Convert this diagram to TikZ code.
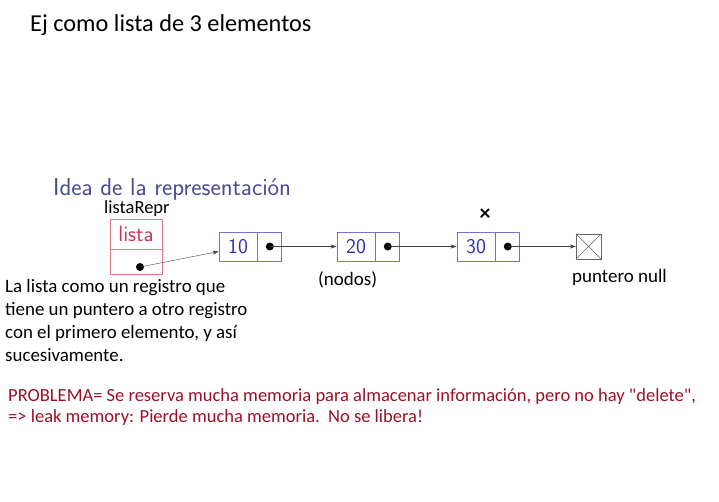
\documentclass[tikz,border=0pt]{standalone}
\usepackage{fontspec}
\setmainfont{Carlito}
\usepackage{xcolor}
\usetikzlibrary{positioning,arrows.meta}

\definecolor{cajaborde}{RGB}{120,110,210}
\definecolor{cajatexto}{RGB}{51,51,178}
\definecolor{tituloidea}{RGB}{75,75,145}
\definecolor{listaborde}{RGB}{225,120,135}
\definecolor{listatexto}{RGB}{205,50,80}
\definecolor{problema}{RGB}{155,15,40}

\tikzset{
    valcell/.style={draw=cajaborde, thick, minimum width=38pt, minimum height=29pt,
        inner sep=0pt, text=cajatexto, font=\fontsize{21}{21}\sffamily},
    ptrcell/.style={draw=cajaborde, thick, minimum width=24pt, minimum height=29pt, inner sep=0pt},
    punto/.style={circle, fill=black, minimum size=8pt, inner sep=0pt},
    flecha/.style={draw=black!75, -{Stealth[length=6pt,width=4pt]}},
    texto/.style={anchor=base west, inner sep=0pt, font=\fontsize{19}{19}\selectfont},
}

\begin{document}
\begin{tikzpicture}[x=1pt,y=-1pt]
    \useasboundingbox (0,0) rectangle (719,501);
    \node[texto, font=\fontsize{24.3}{24.3}\selectfont] (titulo) at (30,31) {Ej como lista de 3 elementos};
    \node[texto, text=tituloidea, font=\fontsize{24.5}{24.5}\sffamily] (idea) at (53,195) {Idea de la representación};
    \node[texto, font=\fontsize{18.5}{18.5}\selectfont] (repr) at (104,213) {listaRepr};
    % registro lista
    \node[draw=listaborde, thick, minimum width=52pt, minimum height=30pt, inner sep=0pt,
        text=listatexto, font=\fontsize{22}{22}\sffamily] (lista) at (136,234) {lista};
    \node[draw=listaborde, thick, minimum width=52pt, minimum height=25pt, below=0pt of lista] (listaptr) {};
    \node[punto] (d0) at (140,267) {};
    % nodos
    \node[valcell] (v1) at (238,246.5) {10};
    \node[ptrcell, right=0pt of v1] (p1) {};
    \node[valcell] (v2) at (356,246.5) {20};
    \node[ptrcell, right=0pt of v2] (p2) {};
    \node[valcell] (v3) at (476,246.5) {30};
    \node[ptrcell, right=0pt of v3] (p3) {};
    \foreach \i in {1,2,3}
        \node[punto] (d\i) at (p\i) {};
    \node[draw=black!60, minimum size=25pt, inner sep=0pt] (null) at (588.5,246.5) {};
    \draw[black!60] (null.north west) -- (null.south east) (null.north east) -- (null.south west);
    \node[font=\bfseries\fontsize{22}{22}\selectfont, inner sep=0pt] (cruz) at (485,215) {×};
    % punteros
    \draw[flecha] (d0.center) -- ([yshift=-5pt]v1.west);
    \draw[flecha] (d1.center) -- (v2.west);
    \draw[flecha] (d2.center) -- (v3.west);
    \draw[flecha] (d3.center) -- (null.west);
    \node[texto] (nodos) at (318,285) {(nodos)};
    \node[texto] (pnull) at (572,282) {puntero null};
    \node[texto, align=left, font=\fontsize{18.9}{23}\selectfont, anchor=north west] (expl) at (5,279)
        {La lista como un registro que\\tiene un puntero a otro registro\\con el primero elemento, y así\\sucesivamente.};
    \node[texto, text=problema, align=left, font=\fontsize{18.5}{21.5}\selectfont, anchor=north west] (prob) at (8,388)
        {PROBLEMA= Se reserva mucha memoria para almacenar información, pero no hay \textquotedbl delete\textquotedbl,\\=> leak memory: Pierde mucha memoria.\ \ No se libera!};
\end{tikzpicture}
\end{document}
